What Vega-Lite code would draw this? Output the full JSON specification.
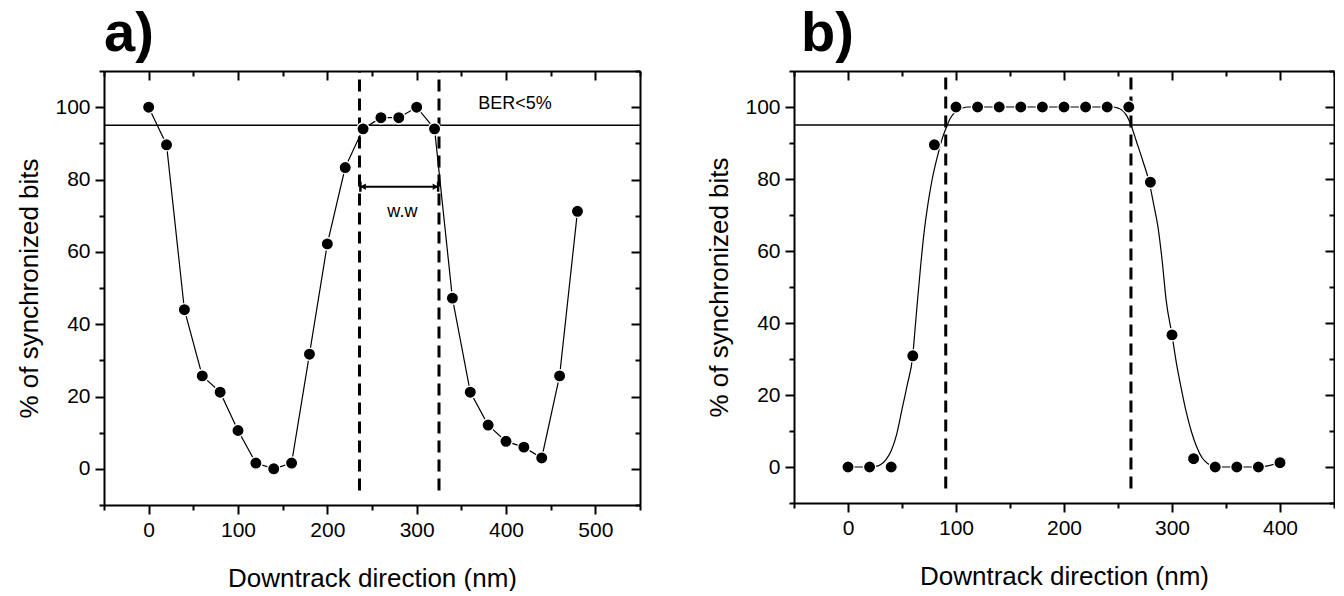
{
  "$schema": "https://vega.github.io/schema/vega-lite/v6.json",
  "padding": {"left": 16, "top": 5, "right": 0, "bottom": 0},
  "background": "white",
  "bounds": "flush",
  "spacing": 154,
  "config": {
    "view": {"stroke": null},
    "axis": {
      "grid": false,
      "domainColor": "black",
      "domainWidth": 2,
      "tickColor": "black",
      "tickWidth": 2,
      "labelFont": "Liberation Sans",
      "labelFontSize": 21,
      "labelColor": "black",
      "labelPadding": 5,
      "titleFont": "Liberation Sans",
      "titleFontSize": 26,
      "titleFontWeight": "normal",
      "titleColor": "black"
    }
  },
  "datasets": {
    "aPts": [
      {"x": 0, "y": 100}, {"x": 20, "y": 89.6}, {"x": 40, "y": 44}, {"x": 60, "y": 25.7},
      {"x": 80, "y": 21.2}, {"x": 100, "y": 10.6}, {"x": 120, "y": 1.6}, {"x": 140, "y": 0},
      {"x": 160, "y": 1.6}, {"x": 180, "y": 31.7}, {"x": 200, "y": 62.2}, {"x": 220, "y": 83.3},
      {"x": 240, "y": 94}, {"x": 260, "y": 97.1}, {"x": 280, "y": 97.1}, {"x": 300, "y": 100},
      {"x": 320, "y": 94}, {"x": 340, "y": 47.2}, {"x": 360, "y": 21.2}, {"x": 380, "y": 12.1},
      {"x": 400, "y": 7.6}, {"x": 420, "y": 6}, {"x": 440, "y": 3}, {"x": 460, "y": 25.7},
      {"x": 480, "y": 71.2}
    ],
    "bPts": [
      {"x": 0, "y": 0}, {"x": 20, "y": 0}, {"x": 40, "y": 0}, {"x": 60, "y": 30.9},
      {"x": 80, "y": 89.5}, {"x": 100, "y": 100}, {"x": 120, "y": 100}, {"x": 140, "y": 100},
      {"x": 160, "y": 100}, {"x": 180, "y": 100}, {"x": 200, "y": 100}, {"x": 220, "y": 100},
      {"x": 240, "y": 100}, {"x": 260, "y": 100}, {"x": 280, "y": 79.1}, {"x": 300, "y": 36.7},
      {"x": 320, "y": 2.3}, {"x": 340, "y": 0}, {"x": 360, "y": 0}, {"x": 380, "y": 0},
      {"x": 400, "y": 1.2}
    ],
    "bFit": [
      {"x": 0, "y": 0}, {"x": 20, "y": 0}, {"x": 25, "y": 0.1}, {"x": 30, "y": 0.6},
      {"x": 35, "y": 2}, {"x": 40, "y": 4.5}, {"x": 45, "y": 9}, {"x": 50, "y": 16},
      {"x": 55, "y": 23}, {"x": 60, "y": 31}, {"x": 62, "y": 38}, {"x": 64, "y": 45},
      {"x": 67, "y": 55}, {"x": 70, "y": 64}, {"x": 74, "y": 73}, {"x": 78, "y": 80},
      {"x": 83, "y": 86.5}, {"x": 87, "y": 91}, {"x": 91, "y": 94.3}, {"x": 95, "y": 97},
      {"x": 99, "y": 98.5}, {"x": 105, "y": 99.6}, {"x": 112, "y": 100}, {"x": 245, "y": 100},
      {"x": 250, "y": 99.7}, {"x": 255, "y": 98.8}, {"x": 258, "y": 97.6}, {"x": 262, "y": 95},
      {"x": 267, "y": 90.5}, {"x": 273, "y": 85}, {"x": 279, "y": 79}, {"x": 283, "y": 73},
      {"x": 287, "y": 66.7}, {"x": 291, "y": 57}, {"x": 294.5, "y": 46.5}, {"x": 300, "y": 36.7},
      {"x": 304, "y": 29}, {"x": 308, "y": 22.7}, {"x": 313, "y": 15.5}, {"x": 318, "y": 9.8},
      {"x": 323, "y": 5.5}, {"x": 328, "y": 2.5}, {"x": 333, "y": 1}, {"x": 339, "y": 0.2},
      {"x": 345, "y": 0}, {"x": 380, "y": 0}, {"x": 400, "y": 1.2}
    ],
    "hLine": [{"y": 95}],
    "aV": [{"x": 236, "y1": -6, "y2": 110}, {"x": 325, "y1": -6, "y2": 110}],
    "bV": [{"x": 90.5, "y1": -6, "y2": 110}, {"x": 262, "y1": -6, "y2": 110}],
    "arrow": [{"x1": 237, "x2": 324, "y": 78}],
    "heads": [
      {"x": 240, "y": 78, "shape": "triangle-left"},
      {"x": 321, "y": 78, "shape": "triangle-right"}
    ],
    "caps": [{"x": 237, "y": 78}, {"x": 324, "y": 78}],
    "aText": [
      {"x": 410, "y": 101, "t": "BER<5%", "w": "normal"},
      {"x": 284, "y": 71, "t": "w.w", "w": "bold"}
    ]
  },
  "hconcat": [
    {
      "width": 536,
      "height": 434,
      "title": {"text": "a)", "anchor": "start", "frame": "group", "fontSize": 56, "fontWeight": "bold", "font": "Liberation Sans", "baseline": "alphabetic", "offset": -37, "color": "black"},
      "resolve": {"axis": {"x": "independent", "y": "independent"}},
      "layer": [
        {
          "data": {"name": "hLine"},
          "mark": {"type": "rule", "color": "black", "strokeWidth": 1.3},
          "encoding": {
            "y": {"field": "y", "type": "quantitative", "scale": {"domain": [-10, 110], "nice": false, "zero": false}, "axis": null}
          }
        },
        {
          "data": {"name": "aV"},
          "mark": {"type": "rule", "color": "black", "strokeWidth": 3, "strokeDash": [12, 7]},
          "encoding": {
            "x": {"field": "x", "type": "quantitative", "scale": {"domain": [-50, 550], "nice": false, "zero": false}, "axis": null},
            "y": {"field": "y1", "type": "quantitative", "scale": {"domain": [-10, 110], "nice": false, "zero": false}, "axis": null},
            "y2": {"field": "y2"}
          }
        },
        {
          "data": {"name": "aPts"},
          "mark": {"type": "line", "color": "black", "strokeWidth": 1.2},
          "encoding": {
            "x": {"field": "x", "type": "quantitative", "scale": {"domain": [-50, 550], "nice": false, "zero": false},
                  "axis": {"orient": "top", "labels": false, "title": null, "values": [-50, 0, 50, 100, 150, 200, 250, 300, 350, 400, 450, 500, 550],
                           "tickSize": {"condition": {"test": "datum.value % 100 === 0", "value": -9}, "value": -5}}},
            "y": {"field": "y", "type": "quantitative", "scale": {"domain": [-10, 110], "nice": false, "zero": false},
                  "axis": {"orient": "right", "labels": false, "title": null, "values": [-10, 0, 10, 20, 30, 40, 50, 60, 70, 80, 90, 100, 110],
                           "tickSize": {"condition": {"test": "datum.value % 20 === 0", "value": -9}, "value": -5}}}
          }
        },
        {
          "data": {"name": "aPts"},
          "mark": {"type": "point", "filled": true, "fill": "black", "stroke": "white", "strokeWidth": 1.3, "size": 150, "opacity": 1},
          "encoding": {
            "x": {"field": "x", "type": "quantitative", "scale": {"domain": [-50, 550], "nice": false, "zero": false},
                  "axis": {"orient": "bottom", "title": "Downtrack direction (nm)", "titlePadding": 25, "values": [-50, 0, 50, 100, 150, 200, 250, 300, 350, 400, 450, 500, 550],
                           "labelExpr": "datum.value % 100 === 0 ? datum.label : ''",
                           "tickSize": {"condition": {"test": "datum.value % 100 === 0", "value": 9}, "value": 5}}},
            "y": {"field": "y", "type": "quantitative", "scale": {"domain": [-10, 110], "nice": false, "zero": false},
                  "axis": {"orient": "left", "title": "% of synchronized bits", "titlePadding": 12, "values": [-10, 0, 10, 20, 30, 40, 50, 60, 70, 80, 90, 100, 110],
                           "labelExpr": "datum.value % 20 === 0 ? datum.label : ''",
                           "tickSize": {"condition": {"test": "datum.value % 20 === 0", "value": 9}, "value": 5}}}
          }
        },
        {
          "data": {"name": "arrow"},
          "mark": {"type": "rule", "color": "black", "strokeWidth": 2},
          "encoding": {
            "x": {"field": "x1", "type": "quantitative", "scale": {"domain": [-50, 550], "nice": false, "zero": false}, "axis": null},
            "x2": {"field": "x2"},
            "y": {"field": "y", "type": "quantitative", "scale": {"domain": [-10, 110], "nice": false, "zero": false}, "axis": null}
          }
        },
        {
          "data": {"name": "heads"},
          "mark": {"type": "point", "filled": true, "fill": "black", "size": 40, "opacity": 1},
          "encoding": {
            "x": {"field": "x", "type": "quantitative", "scale": {"domain": [-50, 550], "nice": false, "zero": false}, "axis": null},
            "y": {"field": "y", "type": "quantitative", "scale": {"domain": [-10, 110], "nice": false, "zero": false}, "axis": null},
            "shape": {"field": "shape", "type": "nominal", "scale": null}
          }
        },
        {
          "data": {"name": "caps"},
          "mark": {"type": "point", "shape": "M0,-1L0,1", "stroke": "black", "strokeWidth": 2.5, "size": 100, "opacity": 1},
          "encoding": {
            "x": {"field": "x", "type": "quantitative", "scale": {"domain": [-50, 550], "nice": false, "zero": false}, "axis": null},
            "y": {"field": "y", "type": "quantitative", "scale": {"domain": [-10, 110], "nice": false, "zero": false}, "axis": null}
          }
        },
        {
          "data": {"name": "aText"},
          "mark": {"type": "text", "font": "Liberation Sans", "fontSize": 18, "color": "black", "baseline": "middle", "align": "center"},
          "encoding": {
            "x": {"field": "x", "type": "quantitative", "scale": {"domain": [-50, 550], "nice": false, "zero": false}, "axis": null},
            "y": {"field": "y", "type": "quantitative", "scale": {"domain": [-10, 110], "nice": false, "zero": false}, "axis": null},
            "text": {"field": "t"},
            "fontWeight": {"field": "w", "type": "nominal", "scale": null}
          }
        }
      ]
    },
    {
      "width": 540,
      "height": 432,
      "title": {"text": "b)", "anchor": "start", "frame": "group", "fontSize": 56, "fontWeight": "bold", "font": "Liberation Sans", "baseline": "alphabetic", "offset": -37, "dx": 7, "color": "black"},
      "resolve": {"axis": {"x": "independent", "y": "independent"}},
      "layer": [
        {
          "data": {"name": "hLine"},
          "mark": {"type": "rule", "color": "black", "strokeWidth": 1.3},
          "encoding": {
            "y": {"field": "y", "type": "quantitative", "scale": {"domain": [-10, 110], "nice": false, "zero": false}, "axis": null}
          }
        },
        {
          "data": {"name": "bV"},
          "mark": {"type": "rule", "color": "black", "strokeWidth": 3, "strokeDash": [12, 7]},
          "encoding": {
            "x": {"field": "x", "type": "quantitative", "scale": {"domain": [-50, 450], "nice": false, "zero": false}, "axis": null},
            "y": {"field": "y1", "type": "quantitative", "scale": {"domain": [-10, 110], "nice": false, "zero": false}, "axis": null},
            "y2": {"field": "y2"}
          }
        },
        {
          "data": {"name": "bFit"},
          "mark": {"type": "line", "color": "black", "strokeWidth": 1.2, "interpolate": "monotone"},
          "encoding": {
            "x": {"field": "x", "type": "quantitative", "scale": {"domain": [-50, 450], "nice": false, "zero": false},
                  "axis": {"orient": "top", "labels": false, "title": null, "values": [-50, 0, 50, 100, 150, 200, 250, 300, 350, 400, 450],
                           "tickSize": {"condition": {"test": "datum.value % 100 === 0", "value": -9}, "value": -5}}},
            "y": {"field": "y", "type": "quantitative", "scale": {"domain": [-10, 110], "nice": false, "zero": false},
                  "axis": {"orient": "right", "labels": false, "title": null, "values": [-10, 0, 10, 20, 30, 40, 50, 60, 70, 80, 90, 100, 110],
                           "tickSize": {"condition": {"test": "datum.value % 20 === 0", "value": -9}, "value": -5}}}
          }
        },
        {
          "data": {"name": "bPts"},
          "mark": {"type": "point", "filled": true, "fill": "black", "stroke": "white", "strokeWidth": 1.3, "size": 150, "opacity": 1},
          "encoding": {
            "x": {"field": "x", "type": "quantitative", "scale": {"domain": [-50, 450], "nice": false, "zero": false},
                  "axis": {"orient": "bottom", "title": "Downtrack direction (nm)", "titlePadding": 25, "values": [-50, 0, 50, 100, 150, 200, 250, 300, 350, 400, 450],
                           "labelExpr": "datum.value % 100 === 0 ? datum.label : ''",
                           "tickSize": {"condition": {"test": "datum.value % 100 === 0", "value": 9}, "value": 5}}},
            "y": {"field": "y", "type": "quantitative", "scale": {"domain": [-10, 110], "nice": false, "zero": false},
                  "axis": {"orient": "left", "title": "% of synchronized bits", "titlePadding": 12, "values": [-10, 0, 10, 20, 30, 40, 50, 60, 70, 80, 90, 100, 110],
                           "labelExpr": "datum.value % 20 === 0 ? datum.label : ''",
                           "tickSize": {"condition": {"test": "datum.value % 20 === 0", "value": 9}, "value": 5}}}
          }
        }
      ]
    }
  ]
}
